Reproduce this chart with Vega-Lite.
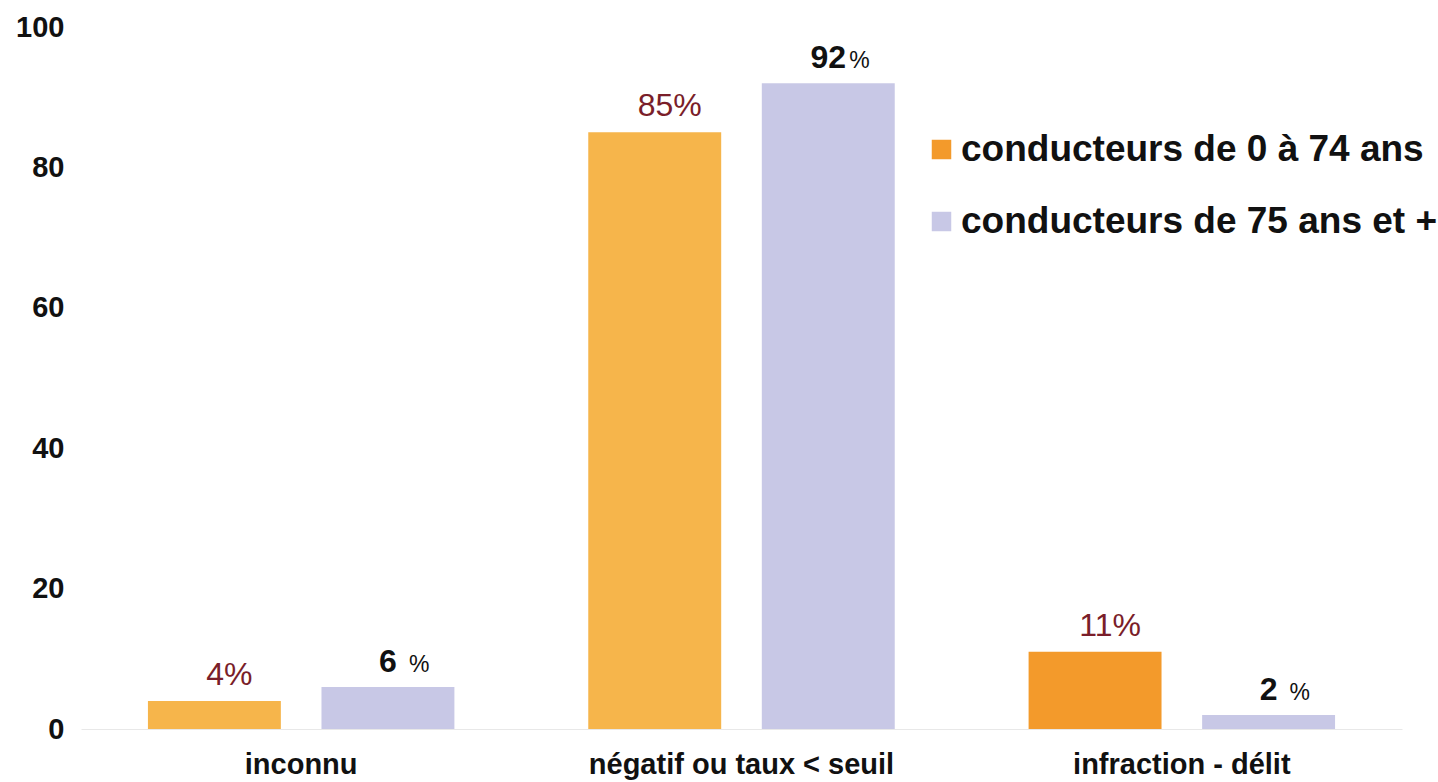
{
  "$schema": "https://vega.github.io/schema/vega-lite/v6.json",
  "width": 1321,
  "height": 702,
  "autosize": {"type": "none"},
  "padding": {"left": 81, "top": 27, "right": 36, "bottom": 53},
  "background": "white",
  "config": {"view": {"stroke": null}, "font": "Liberation Sans"},
  "data": {
    "values": [
      {"categorie": "inconnu", "groupe": "conducteurs de 0 à 74 ans", "valeur": 4},
      {"categorie": "inconnu", "groupe": "conducteurs de 75 ans et +", "valeur": 6},
      {"categorie": "négatif ou taux < seuil", "groupe": "conducteurs de 0 à 74 ans", "valeur": 85},
      {"categorie": "négatif ou taux < seuil", "groupe": "conducteurs de 75 ans et +", "valeur": 92},
      {"categorie": "infraction - délit", "groupe": "conducteurs de 0 à 74 ans", "valeur": 11},
      {"categorie": "infraction - délit", "groupe": "conducteurs de 75 ans et +", "valeur": 2}
    ]
  },
  "encoding": {
    "x": {
      "field": "categorie",
      "type": "nominal",
      "sort": ["inconnu", "négatif ou taux < seuil", "infraction - délit"],
      "scale": {"paddingInner": 0.304, "paddingOuter": 0.152},
      "axis": {
        "title": null,
        "labelAngle": 0,
        "labelFontSize": 29,
        "labelFontWeight": "bold",
        "labelColor": "#111111",
        "labelBaseline": "alphabetic",
        "labelLimit": 0,
        "ticks": false,
        "labelPadding": 44,
        "domainColor": "#e8e8e8"
      }
    },
    "xOffset": {
      "field": "groupe",
      "type": "nominal",
      "scale": {
        "domain": ["conducteurs de 0 à 74 ans", "conducteurs de 75 ans et +"],
        "paddingInner": 0.234,
        "paddingOuter": 0
      }
    },
    "y": {
      "field": "valeur",
      "type": "quantitative",
      "scale": {"domain": [0, 100]},
      "axis": {
        "title": null,
        "values": [0, 20, 40, 60, 80, 100],
        "labelFontSize": 29,
        "labelFontWeight": "bold",
        "labelColor": "#111111",
        "ticks": false,
        "domain": false,
        "grid": false,
        "labelPadding": 17
      }
    }
  },
  "layer": [
    {
      "mark": {"type": "bar"},
      "encoding": {
        "color": {
          "field": "groupe",
          "type": "nominal",
          "scale": {
            "domain": ["conducteurs de 0 à 74 ans", "conducteurs de 75 ans et +"],
            "range": ["#F39A2B", "#C8C8E6"]
          },
          "condition": {
            "test": "datum.groupe === 'conducteurs de 0 à 74 ans' && datum.categorie !== 'infraction - délit'",
            "value": "#F6B54B"
          },
          "legend": {
            "orient": "none",
            "legendX": 842,
            "legendY": 104,
            "title": null,
            "padding": 0,
            "symbolType": "square",
            "symbolSize": 380,
            "symbolOpacity": 1,
            "symbolStrokeWidth": 0,
            "labelFontSize": 37,
            "labelFontWeight": "bold",
            "labelColor": "#111111",
            "labelOffset": 1,
            "rowPadding": 34,
            "labelLimit": 700
          }
        }
      }
    },
    {
      "transform": [
        {"filter": "datum.groupe === 'conducteurs de 0 à 74 ans'"},
        {"calculate": "datum.valeur + '%'", "as": "etiquette"}
      ],
      "mark": {"type": "text", "fontSize": 32, "color": "#7A1E2A", "baseline": "alphabetic", "align": "center", "dx": 15, "dy": -16},
      "encoding": {"text": {"field": "etiquette"}}
    },
    {
      "transform": [{"filter": "datum.groupe === 'conducteurs de 75 ans et +'"}],
      "mark": {"type": "text", "fontSize": 32, "fontWeight": "bold", "color": "#111111", "baseline": "alphabetic", "align": "center", "dy": -15},
      "encoding": {"text": {"field": "valeur", "type": "quantitative"}}
    },
    {
      "transform": [{"filter": "datum.groupe === 'conducteurs de 75 ans et +'"}],
      "mark": {"type": "text", "fontSize": 23, "color": "#111111", "baseline": "alphabetic", "align": "left", "dx": 21, "dy": -15},
      "encoding": {"text": {"value": "%"}}
    }
  ]
}
